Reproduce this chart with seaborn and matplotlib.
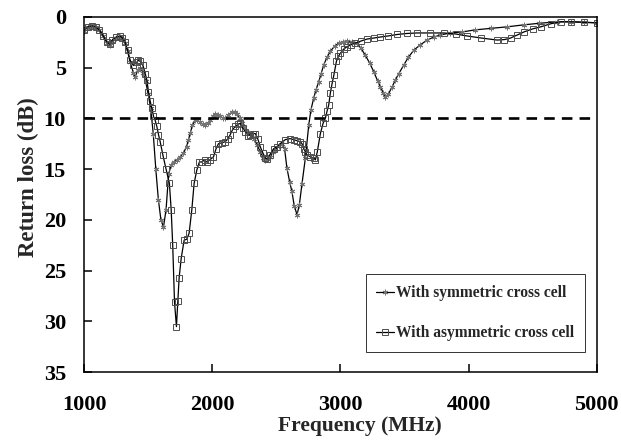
import matplotlib
matplotlib.use("Agg")
import matplotlib.pyplot as plt
import seaborn as sns
import pandas as pd

sns.set_style("ticks")
plt.rcParams["font.family"] = ["Liberation Serif", "DejaVu Serif"]
plt.rcParams["font.weight"] = "bold"

# with symmetric cross cell
symFreq = [1000, 1030, 1060, 1090, 1120, 1150, 1180, 1200, 1220, 1250, 1280, 1300, 1320, 1340, 1360,
           1385, 1400, 1420, 1440, 1460, 1480, 1500, 1520, 1540, 1560, 1580, 1600, 1620, 1640, 1660,
           1680, 1700, 1724, 1750, 1776, 1800, 1815, 1830, 1845, 1867, 1885, 1906, 1925, 1945, 1965,
           1984, 2005, 2023, 2045, 2062, 2085, 2102, 2125, 2154, 2175, 2193, 2215, 2232, 2250, 2271,
           2300, 2323, 2350, 2375, 2400, 2414, 2435, 2453, 2475, 2492, 2520, 2544, 2565, 2583, 2605,
           2622, 2640, 2662, 2680, 2700, 2727, 2753, 2770, 2792, 2810, 2831, 2850, 2870, 2895, 2922,
           2955, 2987, 3020, 3052, 3090, 3130, 3160, 3195, 3230, 3260, 3290, 3312, 3335, 3352, 3375,
           3404, 3430, 3456, 3495, 3530, 3573, 3620, 3677, 3730, 3781, 3859, 3950, 4050, 4172, 4300,
           4432, 4550, 4693, 4800, 4900, 5000]
symLoss = [1.4, 1.0, 0.9, 1.0, 1.3, 1.9, 2.6, 2.8, 2.4, 2.1, 2.0, 2.2, 2.6, 3.4, 4.5,
           5.5, 5.9, 5.2, 5.0, 5.5, 6.3, 7.6, 9.0, 11.5, 15.0, 18.0, 20.0, 20.7, 19.0, 15.5,
           14.6, 14.3, 14.1, 13.8, 13.4, 12.8, 12.1, 11.4, 10.7, 10.2, 10.2, 10.4, 10.6, 10.7, 10.5,
           10.2, 9.8, 9.6, 9.7, 9.8, 10.0, 10.0, 9.7, 9.4, 9.4, 9.6, 10.0, 10.5, 10.9, 11.3,
           11.7, 12.0, 12.6, 13.3, 13.9, 14.1, 14.0, 13.8, 13.3, 13.1, 12.7, 12.5, 13.0, 14.9, 16.3,
           17.2, 18.6, 19.5, 18.5, 16.5, 13.9, 10.7, 9.2, 8.0, 7.2, 6.4, 5.6, 4.75, 4.0, 3.4,
           2.9, 2.6, 2.45, 2.4, 2.45, 2.6, 3.1, 3.8, 4.6, 5.4, 6.3, 6.9, 7.5, 7.9, 7.6,
           6.9, 6.2, 5.6, 4.75, 4.0, 3.3, 2.8, 2.3, 2.0, 1.8, 1.6, 1.5, 1.3, 1.15, 1.0,
           0.8, 0.65, 0.5, 0.5, 0.55, 0.6]

# with asymmetric cross cell
asymFreq = [1000, 1030, 1060, 1090, 1120, 1150, 1180, 1200, 1220, 1250, 1280, 1300, 1320, 1340, 1360,
            1385, 1410, 1424, 1440, 1460, 1477, 1490, 1503, 1516, 1529, 1542, 1555, 1568, 1581, 1594,
            1615, 1640, 1666, 1680, 1692, 1706, 1721, 1732, 1742, 1758, 1781, 1802, 1820, 1841, 1859,
            1880, 1900, 1919, 1940, 1958, 1980, 2010, 2030, 2049, 2075, 2102, 2125, 2141, 2160, 2180,
            2200, 2219, 2240, 2258, 2280, 2297, 2320, 2336, 2355, 2375, 2395, 2414, 2430, 2450, 2479,
            2505, 2531, 2570, 2609, 2635, 2662, 2687, 2701, 2715, 2727, 2740, 2766, 2792, 2805, 2820,
            2844, 2865, 2883, 2896, 2909, 2922, 2935, 2950, 2969, 2985, 3000, 3025, 3052, 3085, 3117,
            3160, 3208, 3260, 3312, 3370, 3443, 3520, 3599, 3700, 3807, 3900, 3990, 4100, 4224, 4280,
            4328, 4380, 4432, 4500, 4563, 4640, 4719, 4800, 4900, 5000]
asymLoss = [1.3, 1.0, 0.9, 1.0, 1.3, 1.9, 2.5, 2.7, 2.3, 2.0, 1.9, 2.1, 2.5, 3.3, 4.3,
            4.8, 4.5, 4.3, 4.4, 4.8, 5.6, 6.2, 7.4, 8.3, 9.0, 9.8, 10.2, 10.8, 11.6, 12.3,
            13.6, 15.0, 16.4, 19.0, 22.5, 28.1, 30.5, 28.0, 25.7, 23.8, 22.0, 21.9, 21.3, 19.0, 16.4,
            15.1, 14.3, 14.3, 14.1, 14.3, 14.1, 13.8, 13.0, 12.5, 12.4, 12.3, 12.0, 11.6, 11.1, 10.8,
            10.6, 10.5, 11.0, 11.3, 11.7, 11.6, 11.5, 11.5, 12.0, 12.8, 13.4, 13.9, 14.0, 13.6, 13.0,
            12.8, 12.5, 12.1, 12.0, 12.1, 12.2, 12.3, 12.5, 13.0, 13.3, 13.6, 13.8, 13.9, 14.1, 13.3,
            11.5, 10.5, 10.0, 9.3, 8.7, 7.5, 6.6, 5.7, 4.4, 3.9, 3.6, 3.2, 2.95, 2.75, 2.6,
            2.4, 2.2, 2.1, 2.0, 1.9, 1.75, 1.65, 1.6, 1.6, 1.6, 1.7, 1.9, 2.1, 2.3, 2.25,
            2.1, 1.8, 1.5, 1.2, 1.0, 0.7, 0.5, 0.5, 0.55, 0.6]

symDf = pd.DataFrame({"Frequency": symFreq, "Loss": symLoss})
asymDf = pd.DataFrame({"Frequency": asymFreq, "Loss": asymLoss})

fig = plt.figure(figsize=(6.21, 4.43), dpi=100)
ax = fig.add_axes([0.1353, 0.1596, 0.8256, 0.8027])

sns.lineplot(x="Frequency", y="Loss", data=symDf, ax=ax, color="black", lw=0.9,
             marker=(6, 2, 0), markersize=4, markeredgecolor="0.45", markeredgewidth=0.7,
             label="With symmetric cross cell")
sns.lineplot(x="Frequency", y="Loss", data=asymDf, ax=ax, color="black", lw=0.9,
             marker="s", markersize=4, markerfacecolor="none", markeredgecolor="0.3",
             markeredgewidth=0.7, label="With asymmetric cross cell")

ax.axhline(10, color="black", lw=1.9, ls=(0, (4, 2.7)))

ax.set_xlim(1000, 5000)
ax.set_ylim(35, 0)
ax.set_xticks([1000, 2000, 3000, 4000, 5000])
ax.set_yticks([0, 5, 10, 15, 20, 25, 30, 35])

for s in ax.spines.values():
    s.set_linewidth(1.1)
    s.set_color("black")
ax.tick_params(direction="in", length=5.5, width=1.1, labelsize=16, colors="black")
ax.tick_params(axis="x", pad=16.5)
ax.tick_params(axis="y", pad=13)

ax.set_xlabel("Frequency (MHz)", fontsize=15.5, fontweight="bold")
ax.set_ylabel("Return loss (dB)", fontsize=16.5, fontweight="bold")
ax.xaxis.set_label_coords(0.538, -0.123)
ax.yaxis.set_label_coords(-0.088, 0.549)

leg = ax.legend(loc="lower right", bbox_to_anchor=(0.977, 0.057), borderaxespad=0,
                fancybox=False, edgecolor="black", fontsize=11.2, labelspacing=1.55,
                handlelength=1.1, handletextpad=0.15, borderpad=0.7)
leg.get_frame().set_linewidth(0.7)
for t in leg.get_texts():
    t.set_fontweight("bold")

fig.savefig("out.png", dpi=100)
